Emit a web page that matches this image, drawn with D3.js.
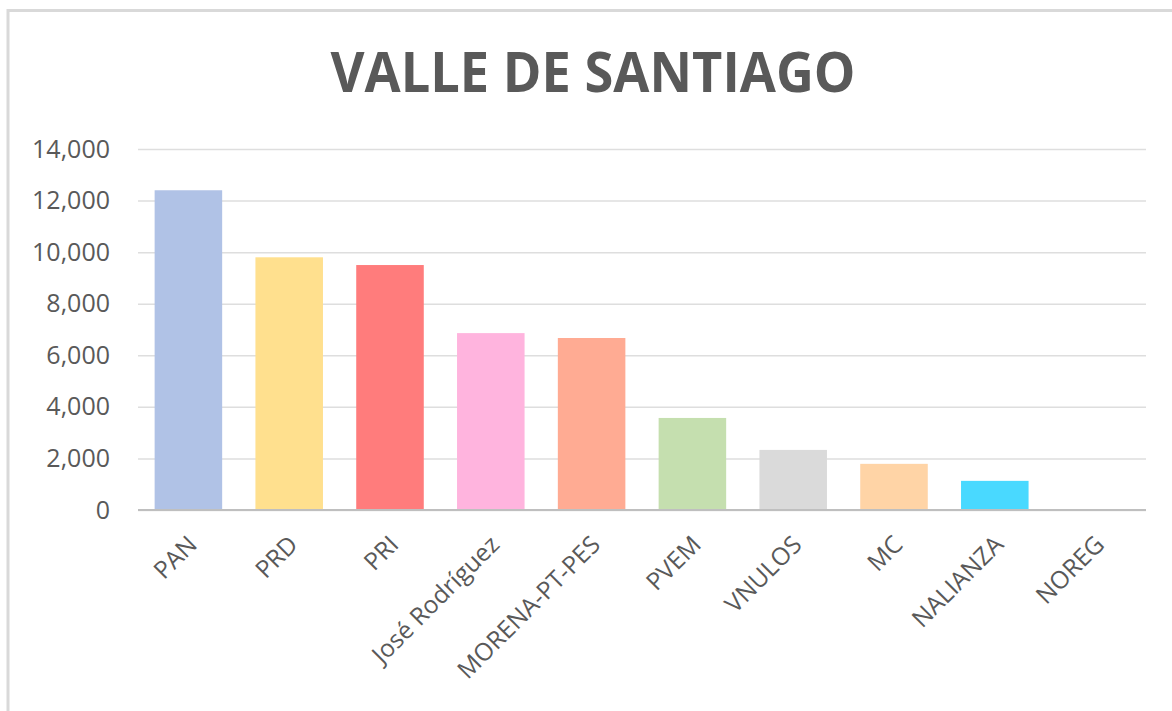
<!DOCTYPE html>
<html>
<head>
<meta charset="utf-8">
<script src="https://cdn.jsdelivr.net/npm/d3@7"></script>
<style>
  body { margin: 0; background: #fff; }
  svg { display: block; font-family: "Open Sans", sans-serif; }
</style>
</head>
<body>
<svg id="chart" width="1172" height="711"></svg>
<script>
// data
var partidos = ["PAN", "PRD", "PRI", "José Rodríguez", "MORENA-PT-PES", "PVEM", "VNULOS", "MC", "NALIANZA", "NOREG"];
var votos = [12400, 9800, 9500, 6860, 6670, 3570, 2330, 1790, 1130, 0];
var colores = ["#B0C2E6", "#FFE08E", "#FF7C7C", "#FFB4DE", "#FFAB93", "#C5DFAF", "#DADADA", "#FFD4A6", "#49D9FF", "#BFBFBF"];
var yTicks = [0, 2000, 4000, 6000, 8000, 10000, 12000, 14000];
var titulo = "VALLE DE SANTIAGO";

var svg = d3.select("#chart");

// chart frame (right and bottom edges fall outside the picture)
svg.append("rect")
    .attr("x", 8).attr("y", 10.5)
    .attr("width", 1200).attr("height", 760)
    .attr("fill", "none")
    .attr("stroke", "#D9D9D9")
    .attr("stroke-width", 3);

var margin = {left: 138, right: 1146, top: 149, bottom: 510};

var x = d3.scaleBand()
    .domain(partidos)
    .range([margin.left, margin.right])
    .paddingInner(0.33)
    .paddingOuter(0.165);

var y = d3.scaleLinear()
    .domain([0, 14000])
    .range([margin.bottom, margin.top]);

// title
svg.append("text")
    .attr("x", 593)
    .attr("y", 92)
    .attr("text-anchor", "middle")
    .attr("font-size", 55)
    .attr("font-weight", "bold")
    .attr("fill", "#595959")
    .attr("textLength", 525)
    .attr("lengthAdjust", "spacingAndGlyphs")
    .text(titulo);

// gridlines
svg.append("g")
    .attr("transform", "translate(" + margin.left + ",0)")
    .call(d3.axisLeft(y).tickValues(yTicks).tickSize(-(margin.right - margin.left)).tickFormat(""))
    .call(g => g.select(".domain").remove())
    .call(g => g.selectAll("line").attr("stroke", "#DEDEDE").attr("stroke-width", 1.5));

// y labels
svg.append("g")
    .attr("transform", "translate(110,0)")
    .call(d3.axisLeft(y).tickValues(yTicks).tickSize(0).tickFormat(d3.format(",")))
    .call(g => g.select(".domain").remove())
    .call(g => g.selectAll("text")
        .attr("font-family", "Open Sans")
        .attr("font-size", 25)
        .attr("fill", "#595959")
        .attr("x", 0));

// bars
svg.selectAll("rect.bar")
    .data(partidos)
    .enter()
    .append("rect")
        .attr("class", "bar")
        .attr("x", d => x(d))
        .attr("width", x.bandwidth())
        .attr("y", (d, i) => y(votos[i]))
        .attr("height", (d, i) => y(0) - y(votos[i]))
        .attr("fill", (d, i) => colores[i]);

// baseline
svg.append("line")
    .attr("x1", margin.left).attr("x2", margin.right)
    .attr("y1", y(0)).attr("y2", y(0))
    .attr("stroke", "#BFBFBF")
    .attr("stroke-width", 2);

// x labels
svg.selectAll("text.xlab")
    .data(partidos)
    .enter()
    .append("text")
        .attr("class", "xlab")
        .attr("transform", d => "translate(" + (x(d) + x.bandwidth() / 2 - 2) + "," + 534 + ") rotate(-45)")
        .attr("text-anchor", "end")
        .attr("dy", "0.7em")
        .attr("font-size", 24.5)
        .attr("fill", "#595959")
        .text(d => d);
</script>
</body>
</html>
